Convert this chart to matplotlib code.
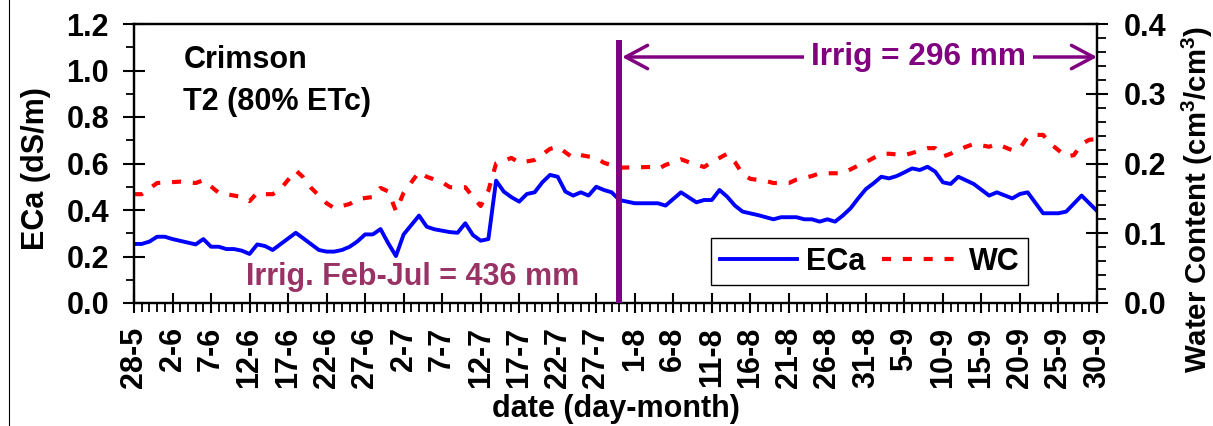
import matplotlib
matplotlib.use("Agg")
import matplotlib.pyplot as plt
from matplotlib.lines import Line2D

plt.rcParams['font.family'] = ['Liberation Sans', 'DejaVu Sans']
plt.rcParams['font.weight'] = 'bold'
plt.rcParams['font.size'] = 22
plt.rcParams['lines.scale_dashes'] = False
plt.rcParams['mathtext.fontset'] = 'custom'
plt.rcParams['mathtext.bf'] = 'Liberation Sans:bold'
plt.rcParams['mathtext.rm'] = 'Liberation Sans:bold'

# ---- data ----
tick_days = list(range(0, 126, 5))
tick_labels = ["28-5", "2-6", "7-6", "12-6", "17-6", "22-6", "27-6", "2-7", "7-7",
               "12-7", "17-7", "22-7", "27-7", "1-8", "6-8", "11-8", "16-8", "21-8",
               "26-8", "31-8", "5-9", "10-9", "15-9", "20-9", "25-9", "30-9"]

eca_days = [0, 1, 2, 3, 4, 5, 8, 9, 10, 11, 12, 13, 14, 15, 16, 17, 18, 21, 24, 25, 26,
            27, 28, 29, 30, 31, 32, 33, 34, 35, 37, 38, 39, 41, 42, 43, 44, 45, 46, 47,
            48, 49, 50, 51, 52, 53, 54, 55, 56, 57, 58, 59, 60, 61, 62, 63, 65, 68, 69,
            71, 73, 74, 75, 76, 77, 78, 79, 81, 83, 84, 86, 87, 88, 89, 90, 91, 92, 93,
            94, 95, 96, 97, 98, 99, 100, 101, 102, 103, 104, 105, 106, 107, 109, 111,
            112, 114, 115, 116, 118, 120, 121, 123, 125]
eca_vals = [0.254, 0.254, 0.264, 0.285, 0.285, 0.275, 0.252, 0.275, 0.242, 0.242, 0.232,
            0.232, 0.225, 0.211, 0.252, 0.245, 0.228, 0.302, 0.228, 0.221, 0.221, 0.228,
            0.242, 0.265, 0.295, 0.295, 0.318, 0.257, 0.202, 0.295, 0.376, 0.328, 0.317,
            0.305, 0.302, 0.343, 0.292, 0.268, 0.275, 0.526, 0.479, 0.455, 0.436, 0.469,
            0.476, 0.519, 0.551, 0.543, 0.479, 0.462, 0.476, 0.462, 0.500, 0.486, 0.476,
            0.443, 0.429, 0.429, 0.419, 0.476, 0.433, 0.443, 0.443, 0.486, 0.457, 0.419,
            0.393, 0.378, 0.360, 0.369, 0.369, 0.360, 0.360, 0.350, 0.360, 0.350, 0.376,
            0.407, 0.450, 0.490, 0.515, 0.543, 0.536, 0.546, 0.562, 0.579, 0.572, 0.586,
            0.565, 0.519, 0.512, 0.543, 0.512, 0.462, 0.476, 0.450, 0.469, 0.476, 0.386,
            0.386, 0.393, 0.462, 0.396]

wc_days = [0, 1, 3, 6, 8, 9, 11, 12, 14, 15, 16, 17, 18, 19, 21, 22, 23, 25, 26, 28, 29,
           31, 32, 33, 34, 35, 37, 38, 40, 41, 43, 44, 45, 46, 47, 49, 50, 52, 54, 55, 57,
           58, 60, 61, 63, 67, 68, 69, 71, 72, 74, 75, 77, 78, 79, 80, 82, 83, 85, 86, 88,
           89, 92, 94, 95, 97, 98, 100, 101, 103, 104, 105, 106, 108, 109, 111, 112, 114,
           115, 116, 117, 118, 119, 120, 121, 122, 123, 124, 125]
wc_vals = [0.156, 0.156, 0.172, 0.174, 0.172, 0.176, 0.158, 0.156, 0.152, 0.146, 0.158,
           0.156, 0.156, 0.163, 0.190, 0.180, 0.165, 0.143, 0.136, 0.142, 0.149, 0.152,
           0.165, 0.160, 0.132, 0.158, 0.188, 0.181, 0.173, 0.166, 0.166, 0.152, 0.139,
           0.161, 0.200, 0.208, 0.201, 0.205, 0.221, 0.224, 0.208, 0.212, 0.208, 0.201,
           0.194, 0.195, 0.192, 0.198, 0.206, 0.202, 0.195, 0.202, 0.214, 0.202, 0.185,
           0.178, 0.175, 0.172, 0.172, 0.177, 0.182, 0.186, 0.186, 0.197, 0.202, 0.214,
           0.214, 0.212, 0.215, 0.222, 0.222, 0.210, 0.214, 0.224, 0.228, 0.224, 0.228,
           0.219, 0.222, 0.238, 0.241, 0.241, 0.228, 0.219, 0.210, 0.212, 0.228, 0.234,
           0.235]

irrig_day = 63
irrig_end = 125
# ---------------

W, H = 1213, 426
FS = 22
fig = plt.figure(figsize=(W / 100, H / 100), dpi=100)
ax = fig.add_axes([134 / W, 1 - 303 / H, (1097 - 134) / W, (303 - 24) / H])
ax2 = ax.twinx()

PURPLE = '#800080'
MAROON = '#993366'

l1, = ax.plot(eca_days, eca_vals, color='#0000FF', lw=2.8, label='ECa',
              solid_joinstyle='round')
l2, = ax2.plot(wc_days, wc_vals, color='#FF0000', lw=3.0, label='WC',
               dashes=(6.5, 8.5))

ax.set_xlim(0, 125)
ax.set_ylim(0, 1.2)
ax2.set_ylim(0, 0.4)

ax.set_xticks(tick_days)
ax.set_xticklabels(tick_labels, rotation=90)
ax.set_xticks(range(0, 126), minor=True)
ax.set_yticks([0, 0.2, 0.4, 0.6, 0.8, 1.0, 1.2])
ax.set_yticklabels([f"{v:.1f}" for v in [0, 0.2, 0.4, 0.6, 0.8, 1.0, 1.2]])
ax.set_yticks([0.1, 0.3, 0.5, 0.7, 0.9, 1.1], minor=True)
ax2.set_yticks([0, 0.1, 0.2, 0.3, 0.4])
ax2.set_yticklabels([f"{v:.1f}" for v in [0, 0.1, 0.2, 0.3, 0.4]])
ax2.set_yticks([0.02, 0.04, 0.06, 0.08, 0.12, 0.14, 0.16, 0.18, 0.22, 0.24, 0.26,
                0.28, 0.32, 0.34, 0.36, 0.38], minor=True)

for a in (ax, ax2):
    for s in a.spines.values():
        s.set_linewidth(1.6)

ax.tick_params(axis='x', which='major', direction='inout', length=14.5, width=1.5,
               pad=10, labelsize=FS)
ax.tick_params(axis='x', which='minor', direction='out', length=6.5, width=1.3)
ax.tick_params(axis='y', which='major', direction='inout', length=16, width=1.5,
               pad=10, labelsize=FS)
ax.tick_params(axis='y', which='minor', direction='out', length=6, width=1.3)
ax2.tick_params(axis='y', which='major', direction='inout', length=16, width=1.5,
                pad=11, labelsize=FS)
ax2.tick_params(axis='y', which='minor', direction='out', length=6.5, width=1.3)

ax.set_ylabel('ECa (dS/m)', fontsize=FS, fontweight='bold')
ax.yaxis.label.set_va('center')
ax.yaxis.set_label_coords((36 - 134) / 963, (303 - 169) / 279)
ax2.set_ylabel('Water Content (cm$^{\\mathbf{3}}$/cm$^{\\mathbf{3}}$)', fontsize=21.2,
               fontweight='bold')
ax2.yaxis.label.set_va('center')
ax2.yaxis.set_label_coords((1197 - 134) / 963, (303 - 199) / 279)
ax.set_xlabel('date (day-month)', fontsize=FS, fontweight='bold')
ax.xaxis.label.set_va('center')
ax.xaxis.set_label_coords(0.5, (303 - 409) / 279)

ax.text(6.4, 1.045, 'Crimson', fontsize=FS, fontweight='bold', va='center', ha='left')
ax.text(6.4, 0.865, 'T2 (80% ETc)', fontsize=FS, fontweight='bold', va='center',
        ha='left')
ax.text(14.5, 0.077, 'Irrig. Feb-Jul = 436 mm', fontsize=FS, fontweight='bold',
        color=MAROON, va='baseline', ha='left', zorder=5)

# irrigation marker
vl = Line2D([irrig_day, irrig_day], [0, 1.12], color=PURPLE, lw=4.3,
            transform=ax.transData, zorder=6)
ax2.add_line(vl)
ax2.annotate('', xy=(irrig_end, 1.058), xytext=(irrig_day + 0.35, 1.058),
             xycoords=ax.transData, textcoords=ax.transData, size=21,
             arrowprops=dict(arrowstyle='<->,head_length=0.75,head_width=0.4',
                             color=PURPLE, lw=2.5, shrinkA=0, shrinkB=0),
             zorder=6, annotation_clip=False)
ax2.text(101.8, 1.058, 'Irrig = 296 mm', transform=ax.transData, fontsize=22.8,
         fontweight='bold', color=PURPLE, ha='center', va='center', zorder=7,
         bbox=dict(fc='white', ec='none', pad=5))

leg = ax2.legend([l1, l2], ['ECa', 'WC'], ncol=2, loc='upper left',
                 bbox_to_anchor=(711 / W, 1 - 238 / H), bbox_transform=fig.transFigure,
                 fancybox=False, framealpha=1, edgecolor='black', handlelength=2.55,
                 handletextpad=0.28, columnspacing=0.55, borderpad=0.28,
                 borderaxespad=0, prop={'size': FS, 'weight': 'bold'})
leg.get_frame().set_linewidth(1.0)
leg.set_zorder(8)

fig.add_artist(Line2D([8.5 / W, 8.5 / W], [0, 1], color='black', lw=0.8,
                      transform=fig.transFigure))

fig.savefig('out.png', dpi=100)
